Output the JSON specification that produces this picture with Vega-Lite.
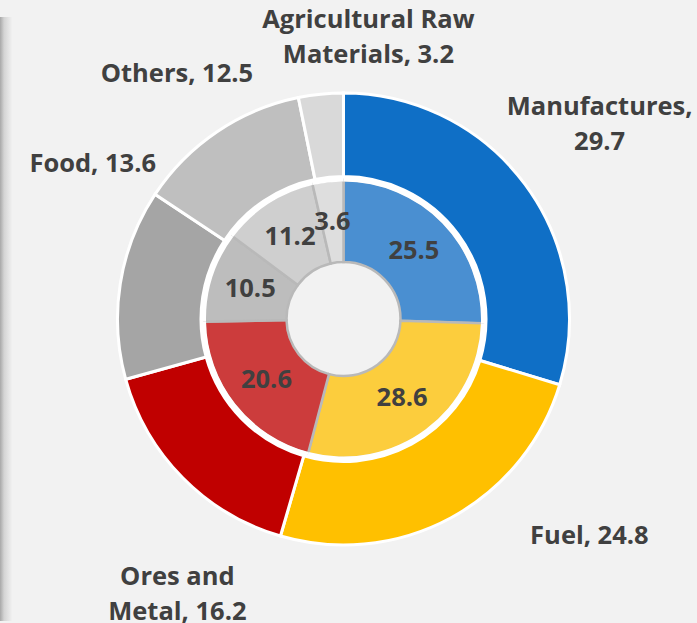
{
  "$schema": "https://vega.github.io/schema/vega-lite/v6.json",
  "autosize": {"type": "none"},
  "width": 687,
  "height": 604,
  "padding": {"left": 0, "top": 17, "right": 10, "bottom": 2},
  "background": "#f2f2f2",
  "view": {
    "stroke": null,
    "fill": {
      "gradient": "linear",
      "x1": 0, "x2": 1, "y1": 0, "y2": 0,
      "stops": [
        {"offset": 0, "color": "#a8a8a8"},
        {"offset": 0.006, "color": "#d4d4d4"},
        {"offset": 0.018, "color": "#f2f2f2"},
        {"offset": 1, "color": "#f2f2f2"}
      ]
    }
  },
  "config": {
    "text": {"font": "Open Sans", "fontWeight": "bold", "fontSize": 25.5, "fill": "#404040", "align": "center", "baseline": "middle", "lineHeight": 35}
  },
  "data": {
    "values": [
      {"cat": "Manufactures", "ord": 1, "outer": 29.7, "inner": 25.5},
      {"cat": "Fuel", "ord": 2, "outer": 24.8, "inner": 28.6},
      {"cat": "Ores and Metal", "ord": 3, "outer": 16.2, "inner": 20.6},
      {"cat": "Food", "ord": 4, "outer": 13.6, "inner": 10.5},
      {"cat": "Others", "ord": 5, "outer": 12.5, "inner": 11.2},
      {"cat": "Agricultural Raw Materials", "ord": 6, "outer": 3.2, "inner": 3.6}
    ]
  },
  "layer": [
    {
      "mark": {"type": "arc", "radius": 139, "radius2": 57, "stroke": "#b9b9b9", "strokeWidth": 2.5},
      "encoding": {
        "theta": {"field": "inner", "type": "quantitative", "stack": true},
        "order": {"field": "ord", "type": "quantitative"},
        "color": {
          "field": "cat", "type": "nominal", "legend": null,
          "scale": {
            "domain": ["Manufactures", "Fuel", "Ores and Metal", "Food", "Others", "Agricultural Raw Materials"],
            "range": ["#4a8fd1", "#fccd3d", "#cc3c3c", "#bdbdbd", "#cfcfcf", "#dedede"]
          }
        }
      }
    },
    {
      "mark": {"type": "arc", "radius": 143, "radius2": 137.5, "fill": "#ffffff", "strokeWidth": 0},
      "encoding": {
        "theta": {"field": "inner", "type": "quantitative", "stack": true},
        "order": {"field": "ord", "type": "quantitative"}
      }
    },
    {
      "mark": {"type": "arc", "radius": 226, "radius2": 142.5, "stroke": "#ffffff", "strokeWidth": 3},
      "encoding": {
        "theta": {"field": "outer", "type": "quantitative", "stack": true},
        "order": {"field": "ord", "type": "quantitative"},
        "fill": {
          "field": "cat", "type": "nominal", "legend": null,
          "scale": {
            "domain": ["Manufactures", "Fuel", "Ores and Metal", "Food", "Others", "Agricultural Raw Materials"],
            "range": ["#0f6fc6", "#ffc000", "#c00000", "#a5a5a5", "#bfbfbf", "#d9d9d9"]
          }
        }
      }
    },
    {
      "mark": {"type": "text", "radius": 98},
      "encoding": {
        "theta": {"field": "inner", "type": "quantitative", "stack": true},
        "order": {"field": "ord", "type": "quantitative"},
        "text": {"field": "inner", "type": "quantitative", "format": ".1f"}
      }
    },
    {
      "transform": [{"calculate": "datum.cat === 'Manufactures' ? [datum.cat + ',', format(datum.outer, '.1f')] : ''", "as": "t"}],
      "mark": {"type": "text", "radius": 320, "dx": -1, "dy": -21.5},
      "encoding": {
        "theta": {"field": "outer", "type": "quantitative", "stack": true},
        "order": {"field": "ord", "type": "quantitative"},
        "text": {"field": "t", "type": "nominal"}
      }
    },
    {
      "transform": [{"calculate": "datum.cat === 'Fuel' ? datum.cat + ', ' + format(datum.outer, '.1f') : ''", "as": "t"}],
      "mark": {"type": "text", "radius": 300, "dx": 103, "dy": -47},
      "encoding": {
        "theta": {"field": "outer", "type": "quantitative", "stack": true},
        "order": {"field": "ord", "type": "quantitative"},
        "text": {"field": "t", "type": "nominal"}
      }
    },
    {
      "transform": [{"calculate": "datum.cat === 'Ores and Metal' ? ['Ores and', 'Metal, ' + format(datum.outer, '.1f')] : ''", "as": "t"}],
      "mark": {"type": "text", "radius": 322, "dx": 63, "dy": 32},
      "encoding": {
        "theta": {"field": "outer", "type": "quantitative", "stack": true},
        "order": {"field": "ord", "type": "quantitative"},
        "text": {"field": "t", "type": "nominal"}
      }
    },
    {
      "transform": [{"calculate": "datum.cat === 'Food' ? datum.cat + ', ' + format(datum.outer, '.1f') : ''", "as": "t"}],
      "mark": {"type": "text", "radius": 260, "dx": 6, "dy": -114},
      "encoding": {
        "theta": {"field": "outer", "type": "quantitative", "stack": true},
        "order": {"field": "ord", "type": "quantitative"},
        "text": {"field": "t", "type": "nominal"}
      }
    },
    {
      "transform": [{"calculate": "datum.cat === 'Others' ? datum.cat + ', ' + format(datum.outer, '.1f') : ''", "as": "t"}],
      "mark": {"type": "text", "radius": 296, "dx": -1, "dy": 0},
      "encoding": {
        "theta": {"field": "outer", "type": "quantitative", "stack": true},
        "order": {"field": "ord", "type": "quantitative"},
        "text": {"field": "t", "type": "nominal"}
      }
    },
    {
      "transform": [{"calculate": "datum.cat === 'Agricultural Raw Materials' ? ['Agricultural Raw', 'Materials, ' + format(datum.outer, '.1f')] : ''", "as": "t"}],
      "mark": {"type": "text", "radius": 280, "dx": 53, "dy": -20.5},
      "encoding": {
        "theta": {"field": "outer", "type": "quantitative", "stack": true},
        "order": {"field": "ord", "type": "quantitative"},
        "text": {"field": "t", "type": "nominal"}
      }
    }
  ]
}
